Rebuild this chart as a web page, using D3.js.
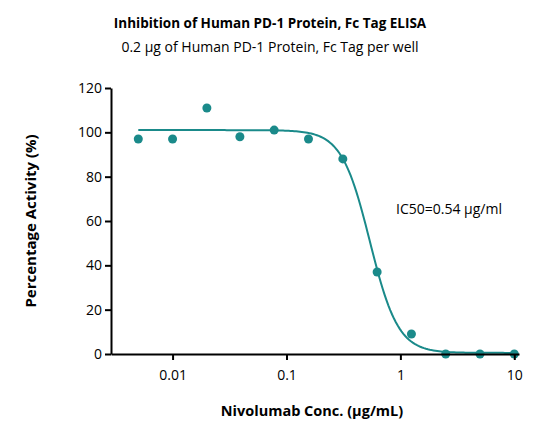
<!DOCTYPE html><html><head><meta charset="utf-8">
<script src="https://cdn.jsdelivr.net/npm/d3@7"></script>
<style>body{margin:0;background:#fff}text{font-family:"Open Sans",Arial,sans-serif}</style></head><body>
<svg id="c" width="540" height="442"></svg>
<script>
const conc=[0.005,0.01,0.02,0.039,0.078,0.156,0.3125,0.625,1.25,2.5,5,10];
const activity=[97,97,111,98,101,97,88,37,9,0,0,0];
const fitParams=[0.5,101,0.54,3.5]; // bottom, top, IC50, hill
const xTicks=[0.01,0.1,1,10];
const yTicks=[0,20,40,60,80,100,120];
const col="#1a8a8a";
const svg=d3.select("#c");
const x=d3.scaleLog().domain([0.00288,11]).range([111,519]);
const y=d3.scaleLinear().domain([0,120]).range([354,88]);
const [b,t,ic,h]=fitParams;
const f=c=>b+(t-b)/(1+Math.pow(c/ic,h));
const cs=d3.range(0,201).map(i=>Math.pow(10,Math.log10(0.005)+i*(Math.log10(10)-Math.log10(0.005))/200));
svg.append("path").attr("d",d3.line().x(c=>x(c)).y(c=>y(f(c)))(cs)).attr("fill","none").attr("stroke",col).attr("stroke-width",2);
svg.selectAll("circle.p").data(conc).join("circle").attr("cx",c=>x(c)).attr("cy",(c,i)=>y(activity[i])).attr("r",4.5).attr("fill",col);
const xa=svg.append("g").attr("transform","translate(0,354)").call(d3.axisBottom(x).tickValues(xTicks).tickFormat(d=>d3.format("")(d)).tickSize(6).tickSizeOuter(0));
const ya=svg.append("g").attr("transform","translate(111,0)").call(d3.axisLeft(y).tickValues(yTicks).tickSize(6).tickSizeOuter(0));
[xa,ya].forEach(a=>{a.select(".domain").attr("stroke","#000").attr("stroke-width",2);a.selectAll(".tick line").attr("stroke","#000").attr("stroke-width",2);a.selectAll("text").attr("font-size",14).attr("fill","#000");});
xa.selectAll("text").attr("dy","1.2em");
svg.append("text").attr("x",270).attr("y",28).attr("text-anchor","middle").attr("font-size",13.5).attr("font-weight","bold").text("Inhibition of Human PD-1 Protein, Fc Tag ELISA");
svg.append("text").attr("x",270).attr("y",52).attr("text-anchor","middle").attr("font-size",14).text("0.2 μg of Human PD-1 Protein, Fc Tag per well");
svg.append("text").attr("x",312).attr("y",416).attr("text-anchor","middle").attr("font-size",14.5).attr("font-weight","bold").text("Nivolumab Conc. (μg/mL)");
svg.append("text").attr("transform","translate(36,221) rotate(-90)").attr("text-anchor","middle").attr("font-size",15).attr("font-weight","bold").text("Percentage Activity (%)");
svg.append("text").attr("x",396).attr("y",214).attr("font-size",14).text("IC50=0.54 μg/ml");
</script></body></html>
